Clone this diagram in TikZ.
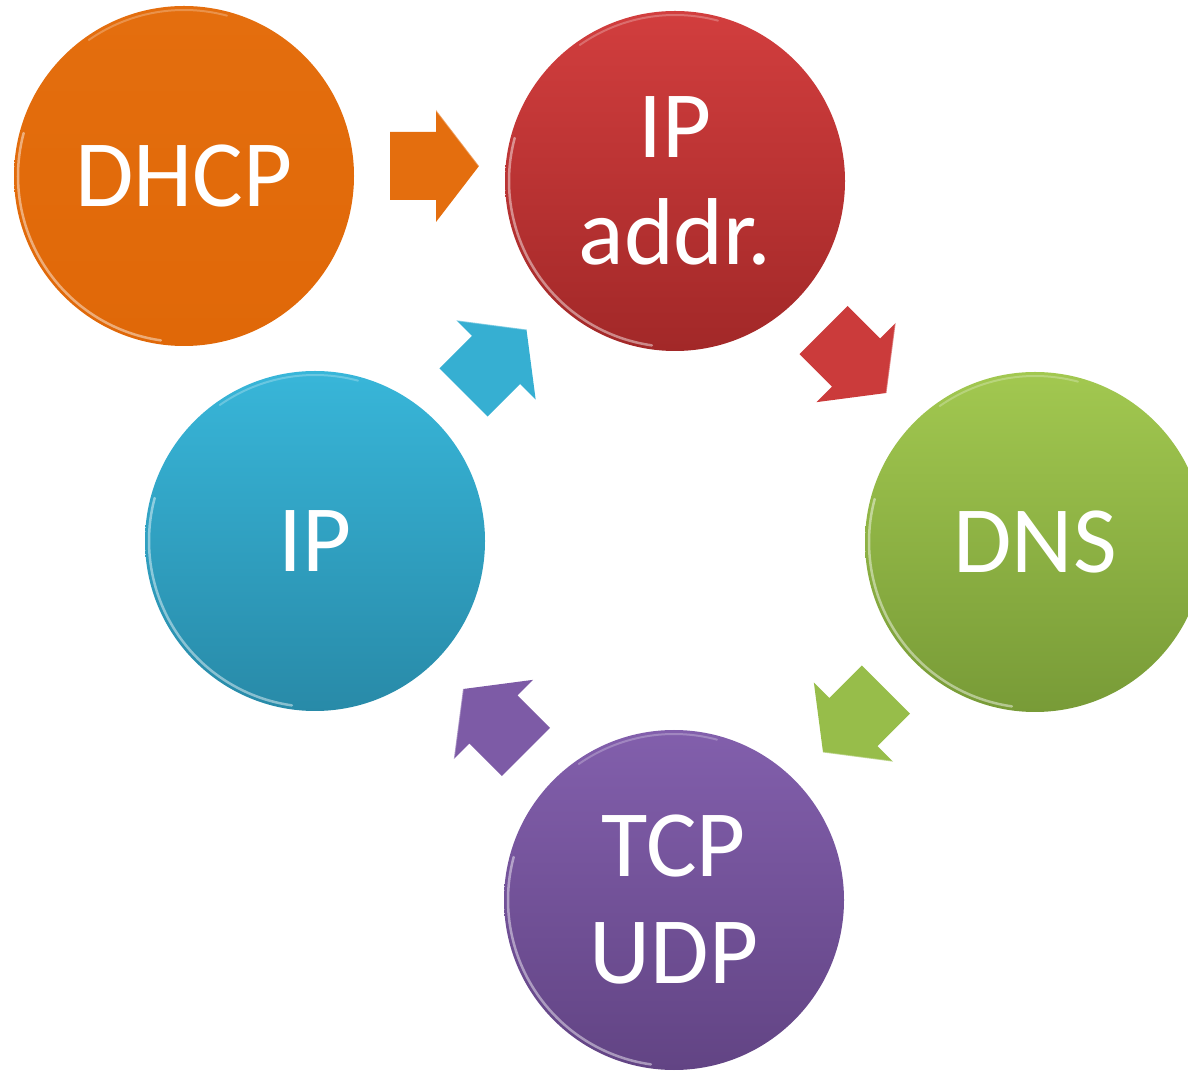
\documentclass[tikz,border=0pt]{standalone}
\usepackage{fontspec}
\setmainfont{Carlito}
\usetikzlibrary{calc}
\definecolor{orangeA}{RGB}{228,110,14}
\definecolor{orangeB}{RGB}{224,104,8}
\definecolor{redA}{RGB}{210,62,62}
\definecolor{redB}{RGB}{162,40,40}
\definecolor{greenA}{RGB}{162,200,80}
\definecolor{greenB}{RGB}{120,155,55}
\definecolor{purpA}{RGB}{130,95,172}
\definecolor{purpB}{RGB}{98,68,132}
\definecolor{blueA}{RGB}{56,182,217}
\definecolor{blueB}{RGB}{40,138,168}
\tikzset{
  ball/.style={circle, minimum size=340pt, inner sep=0pt, text=white,
    align=center, font=\fontsize{95}{107}\selectfont},
  rim/.style={white, opacity=0.45, line width=2.5pt, line cap=round},
  blockarrow/.pic={
    \fill[pic actions] (-44.5,-34) -- (1.5,-34) -- (1.5,-56) -- (44.5,0)
      -- (1.5,56) -- (1.5,34) -- (-44.5,34) -- cycle;
    \draw[white, opacity=0.35, line width=1.5pt, line join=round]
      (1.5,56) -- (44.5,0);
  }
}
\begin{document}
\begin{tikzpicture}[x=1pt,y=1pt]
\useasboundingbox (0,0) rectangle (1188,1071);
% circles
\node[ball, top color=orangeA, bottom color=orangeB] (dhcp) at (184,895) {DHCP};
\node[ball, top color=redA, bottom color=redB] (ipaddr) at (675,890) {IP\\addr.};
\node[ball, top color=greenA, bottom color=greenB] (dns) at (1035,529) {DNS};
\node[ball, top color=purpA, bottom color=purpB] (tcp) at (674,171) {TCP\\UDP};
\node[ball, top color=blueA, bottom color=blueB] (ip) at (315,530) {IP};
% rim highlights
\foreach \n in {dhcp,ipaddr,dns,tcp,ip}{
  \draw[rim] ($(\n)+(165:166)$) arc[start angle=165, end angle=262, radius=166];
  \draw[rim, opacity=0.25, line width=2pt] ($(\n)+(75:166)$) arc[start angle=75, end angle=125, radius=166];
}
% arrows
\pic[fill=orangeA] (a1) at ($(dhcp)!0.5!(ipaddr)+(5,12.5)$) {blockarrow};
\pic[fill=redA!85!redB, rotate=-45] (a2) at ($(ipaddr)!0.5!(dns)$) {blockarrow};
\pic[fill=greenA!75!greenB, rotate=-135] (a3) at ($(dns)!0.5!(tcp)$) {blockarrow};
\pic[fill=purpA!85!purpB, rotate=135] (a4) at ($(tcp)!0.5!(ip)$) {blockarrow};
\pic[fill=blueA!85!blueB, rotate=45] (a5) at ($(ip)!0.5!(ipaddr)$) {blockarrow};
\end{tikzpicture}
\end{document}
